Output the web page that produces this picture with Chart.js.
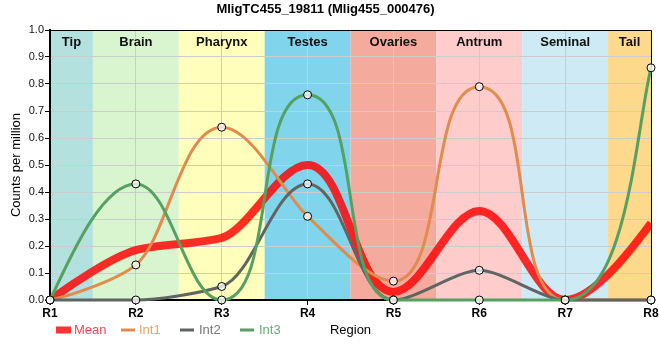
<!DOCTYPE html>
<html>
<head>
<meta charset="utf-8">
<script src="https://cdn.jsdelivr.net/npm/chart.js@4.4.1/dist/chart.umd.min.js"></script>
<style>
html,body{margin:0;padding:0;background:#fff;}
#wrap{width:660px;height:360px;position:relative;}
</style>
</head>
<body>
<div id="wrap"><canvas id="c" width="660" height="360"></canvas></div>
<script>
// ---- data ----
const regions = ["R1","R2","R3","R4","R5","R6","R7","R8"];
const bandNames = ["Tip","Brain","Pharynx","Testes","Ovaries","Antrum","Seminal","Tail"];
const meanValues = [0, 0.185, 0.23, 0.5, 0.03, 0.33, 0.0, 0.285];
const int1Values = [0, 0.13, 0.64, 0.31, 0.07, 0.79, 0, 0];
const int2Values = [0, 0, 0.05, 0.43, 0, 0.11, 0, 0];
const int3Values = [0, 0.43, 0, 0.76, 0, 0, 0, 0.86];
const yTicks = [0,0.1,0.2,0.3,0.4,0.5,0.6,0.7,0.8,0.9,1.0];

// ---- styles ----
const bandColors = ["#b3e1de","#d8f5d0","#ffffbb","#80d4ec","#f5aa9e","#ffcccc","#cdeaf5","#fdd98b"];
const FONT = "'Liberation Sans', Arial, sans-serif";
const HANDLE = 0.25; // handle length as a fraction of the chord

function sgn(v) { return v < 0 ? -1 : 1; }
// monotone tangent directions, chord-length handles, applied to the
// control points of the point elements Chart.js placed on its scales
function applySmoothCurve(points) {
  const n = points.length;
  if (n < 3) return;
  const xs = points.map(p => p.x), ys = points.map(p => p.y);
  const s = [], chord = [], t = new Array(n);
  for (let i = 0; i < n - 1; i++) {
    const dx = xs[i + 1] - xs[i], dy = ys[i + 1] - ys[i];
    s[i] = dy / dx;
    chord[i] = Math.hypot(dx, dy);
  }
  for (let i = 1; i < n - 1; i++) {
    const h0 = xs[i] - xs[i - 1], h1 = xs[i + 1] - xs[i];
    const s0 = s[i - 1], s1 = s[i];
    const p = (s0 * h1 + s1 * h0) / (h0 + h1);
    t[i] = (sgn(s0) + sgn(s1)) * Math.min(Math.abs(s0), Math.abs(s1), 0.5 * Math.abs(p)) || 0;
  }
  t[0] = (3 * s[0] - t[1]) / 2;
  t[n - 1] = (3 * s[n - 2] - t[n - 2]) / 2;
  for (let i = 0; i < n; i++) {
    const pt = points[i];
    const norm = Math.hypot(1, t[i]);
    const ux = 1 / norm, uy = t[i] / norm;
    if (i > 0) {
      const hp = xs[i] - xs[i - 1];
      const L = Math.min(HANDLE * chord[i - 1], 0.8 * hp / ux);
      pt.cp1x = xs[i] - ux * L; pt.cp1y = ys[i] - uy * L;
    } else { pt.cp1x = xs[i]; pt.cp1y = ys[i]; }
    if (i < n - 1) {
      const hn = xs[i + 1] - xs[i];
      const L = Math.min(HANDLE * chord[i], 0.8 * hn / ux);
      pt.cp2x = xs[i] + ux * L; pt.cp2y = ys[i] + uy * L;
    } else { pt.cp2x = xs[i]; pt.cp2y = ys[i]; }
  }
}

const bandsPlugin = {
  id: 'bands',
  beforeDraw(chart) {
    const {ctx, chartArea: a, scales: {x}} = chart;
    ctx.save();
    bandNames.forEach((name, i) => {
      const l = Math.max(a.left, x.getPixelForValue(i - 0.5));
      const r = Math.min(a.right, x.getPixelForValue(i + 0.5));
      ctx.fillStyle = bandColors[i];
      ctx.fillRect(l, a.top, r - l, a.bottom - a.top);
    });
    ctx.restore();
  },
  beforeDatasetsDraw(chart) {
    const {ctx, chartArea: a, scales: {x}} = chart;
    chart.data.datasets.forEach((d, i) => {
      const line = chart.getDatasetMeta(i).dataset;
      if (line && line.points) {
        if (line.updateControlPoints) line.updateControlPoints(a, 'x');
        applySmoothCurve(line.points);
        line._pointsUpdated = true;
        line._path = undefined;
      }
    });
    ctx.save();
    ctx.font = "bold 13px " + FONT;
    ctx.fillStyle = "#111";
    ctx.textAlign = "center";
    ctx.textBaseline = "middle";
    bandNames.forEach((name, i) => {
      const l = Math.max(a.left, x.getPixelForValue(i - 0.5));
      const r = Math.min(a.right, x.getPixelForValue(i + 0.5));
      ctx.fillText(name, (l + r) / 2, a.top + 12);
    });
    ctx.strokeStyle = "#000";
    ctx.lineWidth = 1;
    ctx.beginPath();
    ctx.moveTo(a.left, a.top + 0.5);
    ctx.lineTo(a.right + 0.5, a.top + 0.5);
    ctx.lineTo(a.right + 0.5, a.bottom);
    ctx.stroke();
    ctx.restore();
  },
  afterDraw(chart) {
    const {ctx} = chart;
    const ds = chart.data.datasets;
    ctx.save();
    ctx.font = "13px " + FONT;
    ctx.textBaseline = "middle";
    ctx.textAlign = "left";
    const y = 330;
    ctx.fillStyle = "#ff3333";
    ctx.fillRect(56, y - 3.5, 15, 7);
    ctx.fillStyle = "#ff4455";
    ctx.fillText(ds[0].label, 74, y);
    const items = [
      {i:1, lx:121, tx:139, tc:"#e6a070"},
      {i:2, lx:180, tx:199, tc:"#777777"},
      {i:3, lx:240, tx:259, tc:"#6aaa78"}
    ];
    items.forEach(it => {
      ctx.strokeStyle = ds[it.i].borderColor;
      ctx.lineWidth = 3;
      ctx.beginPath();
      ctx.moveTo(it.lx, y);
      ctx.lineTo(it.lx + 14, y);
      ctx.stroke();
      ctx.fillStyle = it.tc;
      ctx.fillText(ds[it.i].label, it.tx, y);
    });
    ctx.restore();
  }
};

const pointStyle = {
  pointRadius: 4,
  pointHoverRadius: 4,
  pointBackgroundColor: "rgba(255,255,255,0.75)",
  pointBorderColor: "#000",
  pointBorderWidth: 1
};

const lineCommon = {cubicInterpolationMode: 'monotone'};

new Chart(document.getElementById('c'), {
  type: 'line',
  data: {
    labels: regions,
    datasets: [
      Object.assign({label: "Mean", data: meanValues, borderColor: "rgba(255,0,0,0.82)", borderWidth: 8, pointRadius: 0, clip: 0, order: 4}, lineCommon),
      Object.assign({label: "Int1", data: int1Values, borderColor: "#df8c4c", borderWidth: 3, clip: false, order: 3}, pointStyle, lineCommon),
      Object.assign({label: "Int2", data: int2Values, borderColor: "#5f6563", borderWidth: 3, clip: false, order: 2}, pointStyle, lineCommon),
      Object.assign({label: "Int3", data: int3Values, borderColor: "#56a062", borderWidth: 3, clip: false, order: 1}, pointStyle, lineCommon)
    ]
  },
  options: {
    responsive: false,
    animation: false,
    events: [],
    layout: {padding: {left: 0, right: 9, top: 0, bottom: 0}},
    plugins: {
      legend: {display: false},
      tooltip: {enabled: false},
      title: {
        display: true,
        text: "MligTC455_19811 (Mlig455_000476)",
        color: "#000",
        font: {family: FONT, size: 13, weight: 'bold', lineHeight: 1.2},
        padding: {top: 2, bottom: 12.4}
      }
    },
    scales: {
      x: {
        type: 'category',
        offset: false,
        grid: {color: "#cccccc", lineWidth: 1, tickLength: 5, tickColor: "#000", drawTicks: true},
        border: {display: true, color: "#000", width: 2},
        ticks: {color: "#000", font: {family: FONT, size: 12, weight: 'bold'}, padding: 1, maxRotation: 0, autoSkip: false},
        title: {display: true, text: "Region", color: "#000", font: {family: FONT, size: 13}, padding: {top: 0, bottom: 22.2}},
        afterFit(scale) { scale.height = 60; }
      },
      y: {
        min: 0, max: 1,
        afterBuildTicks(scale) { scale.ticks = yTicks.map(v => ({value: v})); },
        grid: {color: "#cccccc", lineWidth: 1, tickLength: 5, tickColor: "#000"},
        border: {display: true, color: "#000", width: 2},
        ticks: {color: "#111", font: {family: FONT, size: 11}, padding: 1, callback: v => Number(v).toFixed(1)},
        title: {display: true, text: "Counts per million", color: "#000", font: {family: FONT, size: 13}, padding: {top: 9, bottom: 0}},
        afterFit(scale) { scale.width = 50; }
      }
    }
  },
  plugins: [bandsPlugin]
});
</script>
</body>
</html>
